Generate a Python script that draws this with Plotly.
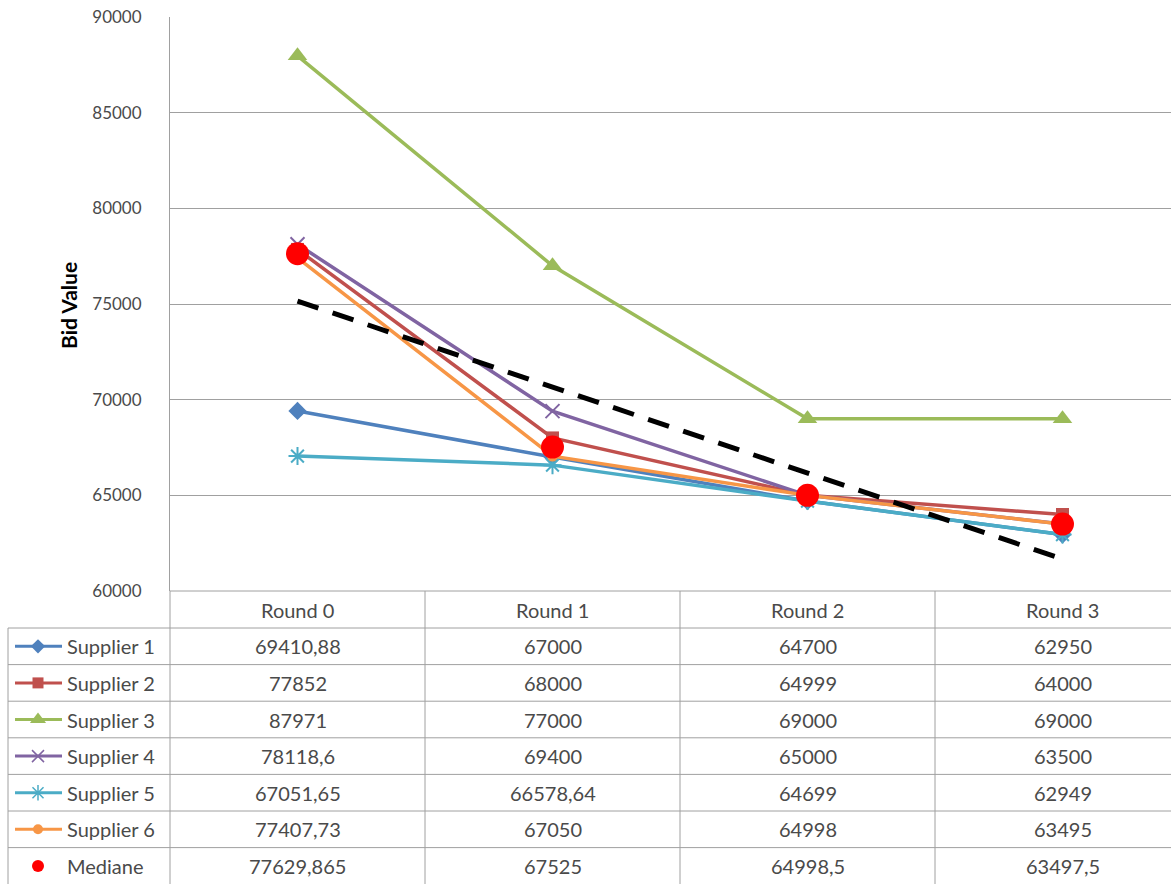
import plotly.graph_objects as go
import numpy as np

# ---------------- data ----------------
rounds = ["Round 0", "Round 1", "Round 2", "Round 3"]
series_names = ["Supplier 1", "Supplier 2", "Supplier 3", "Supplier 4", "Supplier 5", "Supplier 6"]
supplier_1 = [69410.88, 67000, 64700, 62950]
supplier_2 = [77852, 68000, 64999, 64000]
supplier_3 = [87971, 77000, 69000, 69000]
supplier_4 = [78118.6, 69400, 65000, 63500]
supplier_5 = [67051.65, 66578.64, 64699, 62949]
supplier_6 = [77407.73, 67050, 64998, 63495]
median_name = "Mediane"
median = [77629.865, 67525, 64998.5, 63497.5]
y_ticks = [60000, 65000, 70000, 75000, 80000, 85000, 90000]
y_title = "Bid Value"

series_values = [supplier_1, supplier_2, supplier_3, supplier_4, supplier_5, supplier_6]

# ---------------- styles ----------------
colors = ["#4F81BD", "#C0504D", "#9BBB59", "#8064A2", "#4BACC6", "#F79646"]
symbols = ["diamond", "square", "triangle-up", "x-thin", "asterisk", "circle"]
sizes = [14, 13, 17, 14, 15, 11]
key_sizes = [11, 11, 14, 12, 13, 10]
median_color = "#FF0000"
grid_color = "#A0A0A0"
text_color = "#4A4A4A"
FONT = "Lato, 'Open Sans', sans-serif"

W, H = 1171, 884


def px(x):
    return x / W


def py(y):
    return 1 - y / H


def fmt(v):
    if float(v).is_integer():
        return str(int(v))
    return repr(float(v)).replace(".", ",")


xs = list(range(len(rounds)))
fig = go.Figure()

# main series
for name, vals, col, sym, sz in zip(series_names, series_values, colors, symbols, sizes):
    marker = dict(symbol=sym, size=sz, color=col)
    if sym in ("x-thin", "asterisk"):
        marker["line"] = dict(color=col, width=2)
    fig.add_trace(go.Scatter(x=xs, y=vals, mode="lines+markers", name=name,
                             line=dict(color=col, width=3.5), marker=marker,
                             showlegend=False, xaxis="x", yaxis="y"))

# linear trendline of the median
coef = np.polyfit(xs, median, 1)
trend = np.polyval(coef, xs)
fig.add_trace(go.Scatter(x=xs, y=trend, mode="lines", line=dict(color="black", width=5, dash="22px,15px"),
                         showlegend=False, xaxis="x", yaxis="y"))

# median points
fig.add_trace(go.Scatter(x=xs, y=median, mode="markers", name=median_name,
                         marker=dict(symbol="circle", size=23, color=median_color),
                         showlegend=False, xaxis="x", yaxis="y"))

# ---------------- table geometry ----------------
header_top, header_bot = 591, 628
row_h = 36.6
n_rows = len(series_names) + 1
row_centers = [header_bot + row_h * (i + 0.5) for i in range(n_rows)]

# legend keys inside table (secondary axes in pixel units)
for i, (col, sym, ks) in enumerate(zip(colors, symbols, key_sizes)):
    yc = row_centers[i]
    marker = dict(symbol=sym, size=ks, color=col)
    if sym in ("x-thin", "asterisk"):
        marker["line"] = dict(color=col, width=1.5)
    fig.add_trace(go.Scatter(x=[15, 62], y=[yc, yc], mode="lines", line=dict(color=col, width=3),
                             showlegend=False, xaxis="x2", yaxis="y2", hoverinfo="skip"))
    fig.add_trace(go.Scatter(x=[38], y=[yc], mode="markers", marker=marker,
                             showlegend=False, xaxis="x2", yaxis="y2", hoverinfo="skip"))
fig.add_trace(go.Scatter(x=[38], y=[row_centers[-1]], mode="markers",
                         marker=dict(symbol="circle", size=12, color=median_color),
                         showlegend=False, xaxis="x2", yaxis="y2", hoverinfo="skip"))

annotations = []
shapes = []
cell_font = dict(size=20, color=text_color, family=FONT)

# header labels
for j, r in enumerate(rounds):
    annotations.append(dict(x=j, y=py((header_top + header_bot) / 2), xref="x", yref="paper",
                            xanchor="center", yanchor="middle",
                            text=r, showarrow=False, font=cell_font))

# row labels and values
all_rows = series_values + [median]
all_names = series_names + [median_name]
for i, (name, vals) in enumerate(zip(all_names, all_rows)):
    yc = py(row_centers[i])
    annotations.append(dict(x=px(65), y=yc, xref="paper", yref="paper", xanchor="left", yanchor="middle",
                            text=name, showarrow=False, font=cell_font))
    for j, v in enumerate(vals):
        annotations.append(dict(x=j, y=yc, xref="x", yref="paper", xanchor="center", yanchor="middle",
                                text=fmt(v), showarrow=False, font=cell_font))

# y-axis title
annotations.append(dict(x=px(68), y=py(306), xref="paper", yref="paper", xanchor="center", yanchor="middle",
                        text="<b>" + y_title + "</b>", textangle=-90, showarrow=False,
                        font=dict(size=21, color="black", family=FONT)))

# table lines
line_style = dict(color=grid_color, width=1)
shapes.append(dict(type="line", xref="paper", yref="paper", x0=px(170), x1=1,
                   y0=py(header_top), y1=py(header_top), line=line_style))
for k in range(n_rows):
    yb = header_bot + row_h * k
    shapes.append(dict(type="line", xref="paper", yref="paper", x0=px(8), x1=1,
                       y0=py(yb), y1=py(yb), line=line_style))
shapes.append(dict(type="line", xref="paper", yref="paper", x0=px(8), x1=px(8),
                   y0=py(header_bot), y1=0, line=line_style))
shapes.append(dict(type="line", xref="paper", yref="paper", x0=px(170), x1=px(170),
                   y0=py(header_top), y1=0, line=line_style))
for j in range(len(rounds) - 1):
    shapes.append(dict(type="line", xref="x", yref="paper", x0=j + 0.5, x1=j + 0.5,
                       y0=py(header_top), y1=0, line=line_style))

fig.update_layout(
    width=W, height=H,
    margin=dict(l=0, r=0, t=0, b=0, autoexpand=False),
    paper_bgcolor="white", plot_bgcolor="white",
    font=dict(family=FONT, color=text_color),
    xaxis=dict(domain=[px(170), 1], range=[-0.5, -0.5 + (W - 170) / 255.0], showgrid=False,
               zeroline=False, showticklabels=False, showline=False, fixedrange=True, automargin=False),
    yaxis=dict(domain=[py(header_top), py(17)], range=[60000, 90000], tickvals=y_ticks,
               ticktext=[str(t) for t in y_ticks], automargin=False,
               showgrid=True, gridcolor=grid_color, gridwidth=1, zeroline=False,
               showline=True, linecolor=grid_color, linewidth=1, ticks="",
               ticklabelstandoff=24, tickfont=dict(size=17, color=text_color, family=FONT)),
    xaxis2=dict(domain=[0, px(170)], range=[0, 170], visible=False, fixedrange=True),
    yaxis2=dict(domain=[0, py(header_bot)], range=[H, header_bot], visible=False, fixedrange=True),
    annotations=annotations,
    shapes=shapes,
)

fig.write_html("out.html", config={"displayModeBar": False},
               post_script="document.body.style.margin='0';document.body.style.overflow='hidden';")
